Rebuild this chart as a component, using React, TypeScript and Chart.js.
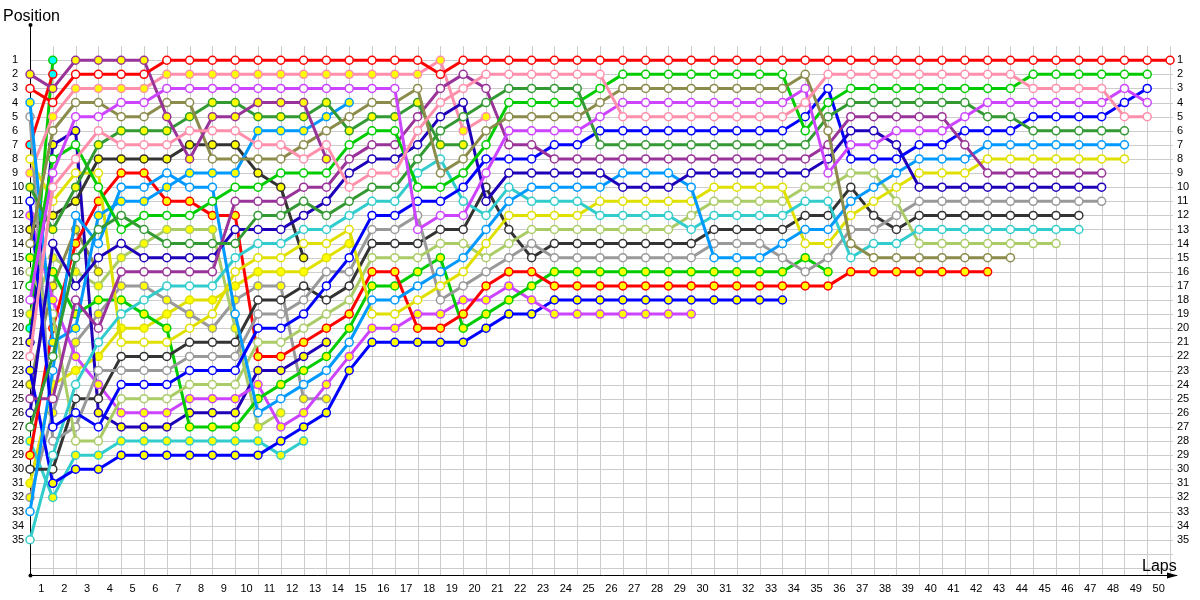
import { useEffect, useRef } from "react";
import { Chart, registerables } from "chart.js";

Chart.register(...registerables);

// ---- tick labels ----
const LAP_TICKS = [1,2,3,4,5,6,7,8,9,10,11,12,13,14,15,16,17,18,19,20,21,22,23,24,25,26,27,28,29,30,31,32,33,34,35,36,37,38,39,40,41,42,43,44,45,46,47,48,49,50];
const POSITION_TICKS = [1,2,3,4,5,6,7,8,9,10,11,12,13,14,15,16,17,18,19,20,21,22,23,24,25,26,27,28,29,30,31,32,33,34,35];

// ---- positions per lap (index = lap, starting with lap 0 = grid) ----
const redW = [3,4,2,2,2,2,1,1,1,1,1,1,1,1,1,1,1,1,2,1,1,1,1,1,1,1,1,1,1,1,1,1,1,1,1,1,1,1,1,1,1,1,1,1,1,1,1,1,1,1,1];
const pinkW = [22,10,8,6,7,7,7,6,6,6,7,7,8,7,10,9,9,6,4,3,2,2,2,2,2,2,5,5,5,5,5,5,5,5,4,2,2,2,2,2,2,2,2,2,3,3,3,3,5,5];
const magentaW = [18,9,5,5,4,4,3,3,3,3,3,3,3,3,3,3,3,13,12,12,9,6,6,6,6,5,4,4,4,4,4,4,4,4,3,9,7,7,6,6,6,5,4,4,4,4,4,4,3,4];
const purpleY = [2,3,1,1,1,1,5,8,5,5,4,4,4,8];
const oliveW = [14,6,4,4,5,5,4,4,8,8,8,8,7,6,5,4,4,3,9,8,6,5,5,5,5,4,3,3,3,3,3,3,3,3,2,6,14,15,15,15,15,15,15,15];
const dkgreenW = [27,22,15,13,12,13,14,14,14,14,12,12,11,12,11,10,10,8,6,5,4,3,3,3,3,7,7,7,7,7,7,7,7,7,7,5,4,4,4,4,4,4,5,5,6,6,6,6,6];
const dkgreenY = [10,13,10,7,6,6,6,5,4,4,5,5,5,4,6,5,5,4,7,7];
const greenW = [17,8,7,10,13,12,12,12,11,10,10,9,9,9,7,6,6,10,10,9,7,4,4,4,4,3,2,2,2,2,2,2,2,2,6,4,3,3,3,3,3,3,3,3,2,2,2,2,2,2];
const purpleW = [25,25,18,20,16,16,16,16,16,11,11,11,10,10,8,7,7,5,3,2,3,7,7,8,8,8,8,8,8,8,8,8,8,8,8,7,5,5,5,5,5,7,9,9,9,9,9,9];
const blueW = [11,27,26,27,24,24,24,23,23,23,20,20,19,17,15,12,12,11,11,10,8,8,8,7,7,6,6,6,6,6,6,6,6,6,5,3,8,8,8,7,7,6,6,6,5,5,5,5,4,3];
const dkblueW = [26,14,17,15,14,15,15,15,15,13,13,13,12,11,9,8,8,7,5,4,11,9,9,9,9,9,10,10,10,9,9,9,9,9,9,8,6,6,7,10,10,10,10,10,10,10,10,10];
const dodgerW = [33,23,12,14,10,10,9,10,10,19,26,25,24,23,21,18,18,17,16,15,13,11,10,10,10,10,9,9,9,10,15,15,15,14,13,13,11,10,9,8,8,8,7,7,7,7,7,7,7];
const dodgerY = [4,21,20,12,11,11,10,9,9,9,6,6,6,5,4];
const cyanW = [35,29,24,21,19,18,17,17,17,15,14,14,13,13,12,11,11,9,8,11,12,10,11,11,11,12,12,12,12,13,12,12,12,12,11,11,15,14,14,13,13,13,13,13,13,13,13];
const yellowW = [8,11,9,9,21,21,21,20,19,16,15,15,14,14,13,19,19,18,17,16,14,12,12,12,12,11,11,11,11,11,10,10,10,10,14,14,12,11,10,9,9,9,8,8,8,8,8,8,8];
const lgreenW = [16,19,28,28,25,25,25,24,24,24,21,21,20,19,18,15,15,15,14,14,15,14,13,13,13,13,13,13,13,12,11,11,11,11,10,10,9,9,11,14,14,14,14,14,14,14];
const grayW = [5,28,27,23,23,23,23,22,22,22,19,19,18,16,16,13,13,12,18,17,16,15,14,15,15,15,15,15,15,15,14,14,14,15,16,15,13,13,12,11,11,11,11,11,11,11,11,11];
const blackW = [30,30,25,25,22,22,22,21,21,21,18,18,17,18,17,14,14,14,13,13,10,13,15,14,14,14,14,14,14,14,13,13,13,13,12,12,10,12,13,12,12,12,12,12,12,12,12];
const blackY = [13,12,11,8,8,8,8,7,7,7,9,10,15];
const redY = [29,20,14,11,9,9,11,11,12,12,22,22,21,20,19,16,16,20,20,19,17,16,16,17,17,17,17,17,17,17,17,17,17,17,17,17,16,16,16,16,16,16,16];
const greenY = [15,16,19,18,18,19,20,27,27,27,25,24,23,22,20,17,17,16,15,20,19,18,17,16,16,16,16,16,16,16,16,16,16,16,15,16];
const magentaY = [12,18,22,24,26,26,26,25,25,25,24,27,26,24,22,20,20,19,19,18,18,17,18,19,19,19,19,19,19,19];
const blueY = [23,31,30,30,29,29,29,29,29,29,29,28,27,26,23,21,21,21,21,21,20,19,19,18,18,18,18,18,18,18,18,18,18,18];
const cyanY = [28,32,29,29,28,28,28,28,28,28,28,29,28];
const dkblueY = [21,7,6,26,27,27,27,26,26,26,23,23,22,21];
const lgreenY = [19,15,16,17,15,14,13,13,13,20,27,26];
const grayY = [32,26,21,19,17,17,18,19,20,18,17,17,25,25];
const yellowY = [31,24,23,22,20,20,19,18,18,17,16,16,16,15,14];
const pinkY = [9,5,3,3,3,3,2,2,2,2,2,2,2,2,2,2,2,2,1,6,5];
const oliveY = [24,17,13,16];
const redC = [7,2];
const greenC = [20,1];

// ---- styles ----
const C = {
  red: "#ff0000", pink: "#ff8fab", magenta: "#cc44ff", purple: "#993399", olive: "#8b8b4b",
  dkgreen: "#339933", green: "#00cc00", blue: "#0000ff", dkblue: "#1f00b8", dodger: "#0099ff",
  cyan: "#33cccc", yellow: "#e0e000", lgreen: "#aacc66", gray: "#999999", black: "#333333",
};
const W = "#ffffff";
const Y = "#ffff00";
const CY = "#00ffff";

const DRIVERS = [
  { d: redW, c: C.red, f: W }, { d: pinkW, c: C.pink, f: W }, { d: magentaW, c: C.magenta, f: W },
  { d: purpleY, c: C.purple, f: Y }, { d: oliveW, c: C.olive, f: W }, { d: dkgreenW, c: C.dkgreen, f: W },
  { d: dkgreenY, c: C.dkgreen, f: Y }, { d: greenW, c: C.green, f: W }, { d: purpleW, c: C.purple, f: W },
  { d: blueW, c: C.blue, f: W }, { d: dkblueW, c: C.dkblue, f: W }, { d: dodgerW, c: C.dodger, f: W },
  { d: dodgerY, c: C.dodger, f: Y }, { d: cyanW, c: C.cyan, f: W }, { d: yellowW, c: C.yellow, f: W },
  { d: lgreenW, c: C.lgreen, f: W }, { d: grayW, c: C.gray, f: W }, { d: blackW, c: C.black, f: W },
  { d: blackY, c: C.black, f: Y }, { d: redY, c: C.red, f: Y }, { d: greenY, c: C.green, f: Y },
  { d: magentaY, c: C.magenta, f: Y }, { d: blueY, c: C.blue, f: Y }, { d: cyanY, c: C.cyan, f: Y },
  { d: dkblueY, c: C.dkblue, f: Y }, { d: lgreenY, c: C.lgreen, f: Y }, { d: grayY, c: C.gray, f: Y },
  { d: yellowY, c: C.yellow, f: Y }, { d: pinkY, c: C.pink, f: Y }, { d: oliveY, c: C.olive, f: Y },
  { d: redC, c: C.red, f: CY }, { d: greenC, c: C.green, f: CY },
];

const FONT = "Liberation Sans";

const framePlugin = {
  id: "frame",
  beforeDatasetsDraw(chart: any) {
    const { ctx, chartArea, scales } = chart;
    const xs = scales.x;
    const ys = scales.y;
    ctx.save();
    ctx.strokeStyle = "#cccccc";
    ctx.lineWidth = 1;
    ctx.beginPath();
    for (let p = 1; p <= 37; p++) {
      const py = Math.round(ys.getPixelForValue(p)) + 0.5;
      ctx.moveTo(chartArea.left, py);
      ctx.lineTo(chartArea.right, py);
    }
    const topY = ys.getPixelForValue(0);
    for (const lap of LAP_TICKS) {
      const px = Math.round(xs.getPixelForValue(lap)) + 0.5;
      ctx.moveTo(px, topY);
      ctx.lineTo(px, chartArea.bottom);
    }
    ctx.stroke();
    ctx.strokeStyle = "#000000";
    ctx.fillStyle = "#000000";
    ctx.beginPath();
    const ax = Math.round(chartArea.left) + 0.5;
    const ay = Math.round(chartArea.bottom) + 0.5;
    ctx.moveTo(ax, ay);
    ctx.lineTo(ax, chartArea.top);
    ctx.moveTo(ax, ay);
    ctx.lineTo(chartArea.right + 4, ay);
    ctx.stroke();
    ctx.beginPath();
    ctx.moveTo(chartArea.right + 5, ay);
    ctx.lineTo(chartArea.right - 6, ay - 3);
    ctx.lineTo(chartArea.right - 6, ay + 3);
    ctx.closePath();
    ctx.fill();
    ctx.beginPath();
    ctx.arc(ax, chartArea.top, 2, 0, Math.PI * 2);
    ctx.fill();
    ctx.beginPath();
    ctx.arc(ax, ay, 2, 0, Math.PI * 2);
    ctx.fill();
    ctx.restore();
  },
  afterDraw(chart: any) {
    const { ctx } = chart;
    ctx.save();
    ctx.fillStyle = "#000000";
    ctx.font = `16px "${FONT}"`;
    ctx.textBaseline = "alphabetic";
    ctx.textAlign = "left";
    ctx.fillText("Position", 3, 21);
    ctx.fillText("Laps", 1142, 571);
    ctx.restore();
  },
};

export default function App() {
  const ref = useRef<HTMLCanvasElement | null>(null);
  useEffect(() => {
    if (!ref.current) return;
    const datasets = DRIVERS.map((dr) => ({
      data: dr.d.map((p, i) => ({ x: i, y: p })),
      borderColor: dr.c,
      backgroundColor: dr.f,
      pointBackgroundColor: dr.f,
      pointBorderColor: dr.c,
      borderWidth: 3,
      pointRadius: 4,
      pointHoverRadius: 4,
      pointBorderWidth: 1.5,
      tension: 0,
      clip: false as any,
    }));
    const tickFont = { family: FONT, size: 11 };
    const chart = new Chart(ref.current, {
      type: "line",
      data: { datasets },
      plugins: [framePlugin],
      options: {
        animation: false,
        responsive: false,
        events: [],
        layout: { padding: { left: 12, top: 25, right: 0, bottom: 0 } },
        plugins: { legend: { display: false }, tooltip: { enabled: false }, title: { display: false } },
        scales: {
          x: {
            type: "linear",
            min: 0,
            max: 50.13,
            grid: { display: false, drawTicks: false },
            border: { display: false },
            ticks: {
              color: "#000",
              font: tickFont,
              padding: 7,
              autoSkip: false,
              maxRotation: 0,
              callback: (v: any) => String(Math.round(Number(v) + 0.5)),
            },
            afterBuildTicks: (s: any) => {
              s.ticks = LAP_TICKS.map((n) => ({ value: n - 0.5 }));
            },
            afterFit: (s: any) => {
              s.height = 25;
            },
          },
          y: {
            type: "linear",
            position: "left",
            reverse: true,
            min: -1.5,
            max: 37.5,
            grid: { display: false, drawTicks: false },
            border: { display: false },
            ticks: {
              color: "#000",
              font: tickFont,
              padding: 0,
              crossAlign: "far",
              autoSkip: false,
              callback: (v: any) => String(v),
            },
            afterBuildTicks: (s: any) => {
              s.ticks = POSITION_TICKS.map((n) => ({ value: n }));
            },
            afterFit: (s: any) => {
              s.width = 18;
            },
          },
          y2: {
            type: "linear",
            position: "right",
            reverse: true,
            min: -1.5,
            max: 37.5,
            grid: { display: false, drawTicks: false },
            border: { display: false },
            ticks: {
              color: "#000",
              font: tickFont,
              padding: 4,
              crossAlign: "near",
              autoSkip: false,
              callback: (v: any) => String(v),
            },
            afterBuildTicks: (s: any) => {
              s.ticks = POSITION_TICKS.map((n) => ({ value: n }));
            },
            afterFit: (s: any) => {
              s.width = 27;
            },
          },
        },
      } as any,
    });
    return () => chart.destroy();
  }, []);
  return (
    <div style={{ position: "fixed", left: 0, top: 0, width: 1200, height: 600, background: "#ffffff" }}>
      <canvas ref={ref} width={1200} height={600} style={{ display: "block" }} />
    </div>
  );
}
